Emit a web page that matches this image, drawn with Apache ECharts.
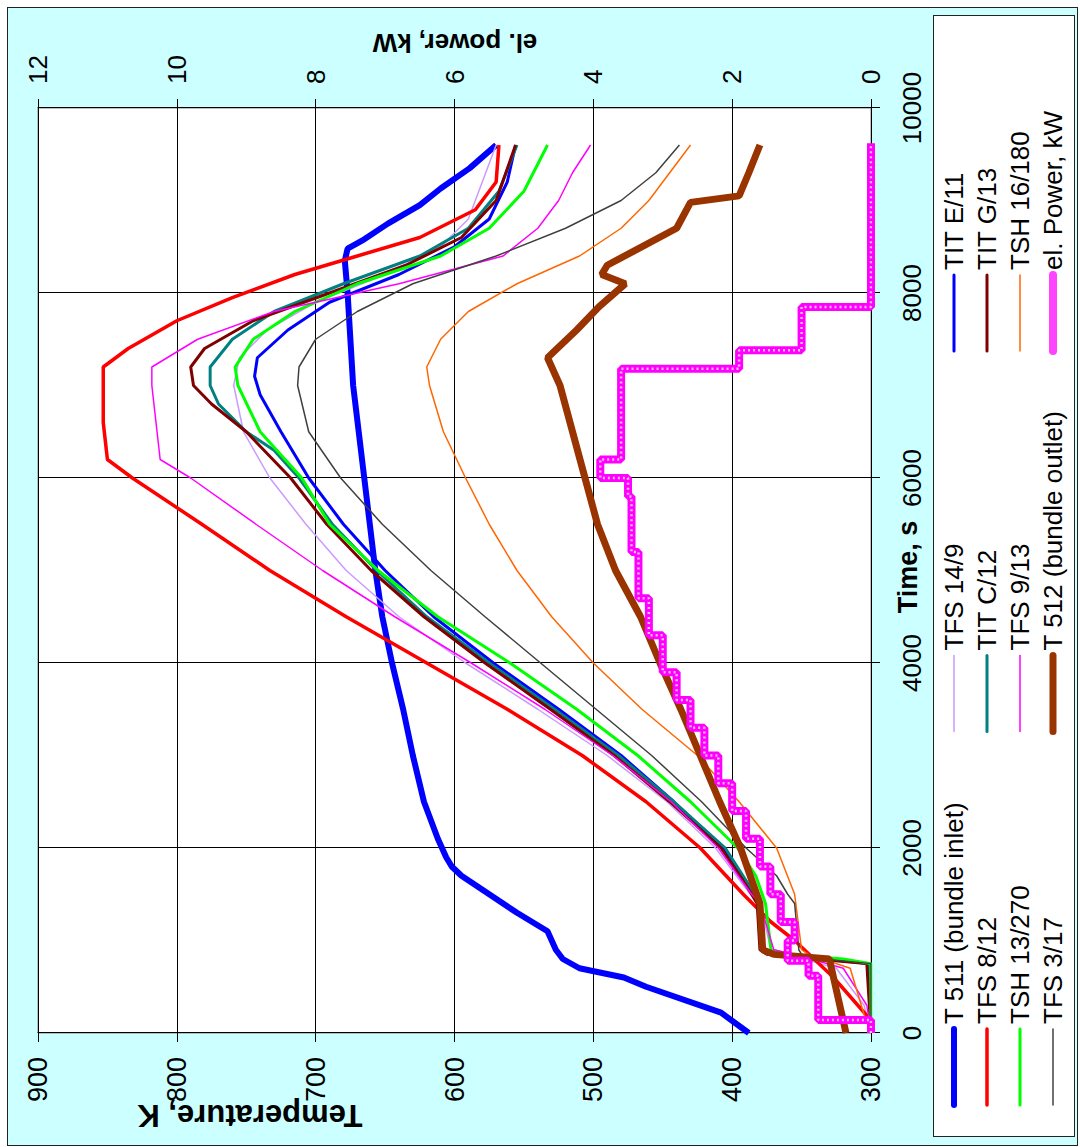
<!DOCTYPE html>
<html><head><meta charset="utf-8">
<script src="https://cdn.jsdelivr.net/npm/echarts@6/dist/echarts.min.js"></script>
<style>
html,body{margin:0;padding:0;background:#fff;overflow:hidden;width:1080px;height:1147px}
#wrap{position:absolute;left:0;top:0;width:1147px;height:1080px;transform-origin:0 0;transform:translate(0px,1147px) rotate(-90deg);}
#bg{position:absolute;left:1px;top:7px;width:1137px;height:1069px;background:#ccffff;border:1.5px solid #222;}
#lg{position:absolute;left:10px;top:933px;width:1120px;height:140px;background:#fff;border:1px solid #222;}
#chart{position:absolute;left:0;top:0;width:1147px;height:1080px;}
</style></head><body>
<div id="wrap"><div id="bg"></div><div id="lg"></div><div id="chart"></div></div>
<script>
// ---- data (time s, temperature K) ----
const t511 = [[0,388],[220,408],[500,462],[600,478],[700,510],[800,522],[900,527],[1000,530],[1100,533],[1300,555],[1500,575],[1700,595],[1800,602],[1900,606],[2100,612],[2500,622],[3000,630],[3500,637],[4000,645],[4500,652],[5000,657],[5500,661],[6000,665],[6500,669],[7000,673],[7500,675],[8000,677],[8350,679],[8480,677],[8580,665],[8750,648],[8950,625],[9130,610],[9350,589],[9600,570]];
const tfs14_9 = [[0,300],[300,305],[700,325],[850,360],[900,372],[1400,380],[1500,387],[2000,412],[2500,447],[3000,490],[3500,540],[4000,592],[4500,640],[5000,678],[5500,707],[6000,733],[6500,752],[7000,759],[7300,755],[7600,735],[7900,700],[8200,650],[8500,610],[8800,590],[9200,580],[9600,570]];
const titE11 = [[0,300],[750,302],[800,330],[850,372],[900,378],[1400,380],[1600,388],[2000,407],[2500,442],[3000,480],[3500,525],[4000,572],[4500,615],[5000,650],[5500,680],[6000,705],[6500,725],[6900,740],[7100,744],[7300,742],[7600,720],[7900,690],[8200,640],[8500,600],[8800,575],[9200,562],[9600,556]];
const tfs8_12 = [[0,300],[170,302],[600,327],[1000,355],[1200,372],[1500,392],[2000,423],[2500,462],[3000,508],[3500,562],[4000,620],[4500,678],[5000,733],[5500,782],[6000,832],[6200,850],[6600,853],[7200,853],[7400,835],[7700,800],[7950,760],[8200,715],[8400,670],[8600,625],[8900,585],[9200,570],[9600,568]];
const titC12 = [[0,300],[750,302],[800,335],[850,372],[900,379],[1400,381],[1600,388],[2000,405],[2500,442],[3000,482],[3500,528],[4000,575],[4500,620],[5000,656],[5500,688],[6000,712],[6300,730],[6500,750],[6800,770],[7000,776],[7200,776],[7500,760],[7800,730],[8100,680],[8400,625],[8700,590],[9100,568],[9600,555]];
const titG13 = [[0,300],[750,303],[800,340],[850,375],[900,380],[1400,382],[1600,390],[2000,408],[2500,445],[3000,485],[3500,531],[4000,578],[4500,622],[5000,660],[5500,692],[6000,718],[6500,750],[6800,775],[7000,788],[7200,790],[7400,780],[7700,745],[8000,690],[8300,635],[8600,595],[9000,570],[9600,556]];
const tsh13_270 = [[0,300],[750,300],[800,320],[850,360],[900,372],[1400,376],[1700,383],[2000,396],[2500,430],[3000,468],[3500,512],[4000,560],[4500,612],[5000,655],[5500,690],[6000,710],[6500,740],[7000,756],[7200,758],[7500,745],[7800,715],[8100,670],[8400,610],[8700,575],[9100,550],[9600,533]];
const tfs9_13 = [[0,300],[300,303],[700,320],[850,355],[900,370],[1400,380],[1500,386],[2000,410],[2500,444],[3000,486],[3500,535],[4000,588],[4500,643],[5000,695],[5500,743],[6000,790],[6200,812],[6600,815],[7000,818],[7200,818],[7500,785],[7800,730],[8100,640],[8400,565],[8700,540],[9000,525],[9300,515],[9600,502]];
const tsh16_180 = [[0,300],[200,305],[700,315],[850,345],[900,350],[1500,355],[2000,368],[2500,395],[3000,425],[3500,465],[4000,500],[4500,530],[5000,555],[5500,575],[6000,592],[6500,608],[7000,618],[7200,620],[7500,610],[7800,590],[8100,555],[8400,510],[8700,480],[9000,460],[9300,445],[9600,430]];
const tfs3_17 = [[0,300],[750,300],[800,335],[850,350],[900,352],[1400,355],[1500,360],[1700,368],[2000,390],[2500,422],[3000,458],[3500,498],[4000,538],[4500,578],[5000,617],[5500,652],[6000,682],[6500,705],[7000,713],[7200,712],[7500,700],[7800,670],[8100,630],[8400,570],[8700,520],[9000,480],[9300,455],[9600,438]];
const t512 = [[0,318],[800,330],[850,370],[900,378],[1400,380],[2000,394],[2500,409],[3000,423],[3500,437],[4000,452],[4500,466],[5000,484],[5500,497],[6000,506],[6500,515],[7000,524],[7300,533],[7600,512],[7850,496],[8100,477],[8200,494],[8300,490],[8700,440],[8980,430],[9050,395],[9300,388],[9600,380]];
// el. power, kW (value holds from the given time)
const power = [[0,0],[140,0.76],[620,0.9],[780,1.2],[1000,1.1],[1200,1.3],[1500,1.45],[1800,1.6],[2100,1.8],[2400,2.0],[2700,2.2],[3000,2.4],[3300,2.6],[3600,2.8],[3900,3.0],[4300,3.2],[4700,3.35],[5200,3.45],[5800,3.5],[6000,3.9],[6200,3.6],[7180,1.9],[7380,1.0],[7850,0],[9620,0]];

const timeRange = [0,10000,2000];
const tempRange = [300,900,100];
const powerRange = [0,12,2];

const FONT = 'Liberation Sans, Arial, sans-serif';
const names = ['T 511 (bundle inlet)','TFS 14/9','TIT E/11','TFS 8/12','TIT C/12','TIT G/13','TSH 13/270','TFS 9/13','TSH 16/180','TFS 3/17','T 512 (bundle outlet)','el. Power, kW'];
const colors = ['#0000ff','#cc99ff','#0000ff','#ff0000','#008080','#800000','#00ff00','#ff00ff','#ff6600','#404040','#993300','#ff33ff'];
const widths = [6,1.5,3,3.5,3,3,3,1.5,1.5,1.5,7,8];
const tempData = [t511,tfs14_9,titE11,tfs8_12,titC12,titG13,tsh13_270,tfs9_13,tsh16_180,tfs3_17,t512];

const series = tempData.map((d,i)=>({
  name:names[i], type:'line', data:d, showSymbol:false, symbol:'none', yAxisIndex:0,
  lineStyle:{color:colors[i], width:widths[i]}, itemStyle:{color:colors[i]}, animation:false
}));
series.push({name:names[11], type:'line', data:power, step:'end', showSymbol:false, symbol:'none', yAxisIndex:1,
  lineStyle:{color:'#ff00ff', width:widths[11]}, itemStyle:{color:'#ff00ff'}, animation:false, z:3});
series.push({name:'power-texture', type:'line', data:power, step:'end', showSymbol:false, symbol:'none', yAxisIndex:1,
  lineStyle:{color:'#ffbbff', width:2.5, type:[2,3]}, itemStyle:{color:'#ffbbff'}, animation:false, z:4, silent:true});

const legItem = i => ({name:names[i], itemStyle:{opacity:0}, lineStyle:{width:widths[i], color:i===11?'#ff44ff':colors[i], cap:'round'}});
const legendBase = {orient:'vertical', itemWidth:76, itemHeight:14, itemGap:7, top:936,
  textStyle:{fontSize:26, fontFamily:FONT, color:'#000', lineHeight:26}, selectedMode:false};
const fmt = v => String(v);
const chart = echarts.init(document.getElementById('chart'), null, {renderer:'svg'});
chart.setOption({
  animation:false,
  grid:{left:114, right:108, top:38, bottom:209, show:true, backgroundColor:'#fff', borderColor:'#808080', borderWidth:1},
  xAxis:{type:'value', min:timeRange[0], max:timeRange[1], interval:timeRange[2],
    axisLine:{show:true, onZero:false, lineStyle:{color:'#000'}}, axisTick:{show:true, length:9, lineStyle:{color:'#000'}},
    axisLabel:{fontSize:26, fontFamily:FONT, color:'#000', margin:28, formatter:fmt},
    splitLine:{show:true, lineStyle:{color:'#000', width:1}}},
  yAxis:[
    {type:'value', min:tempRange[0], max:tempRange[1], interval:tempRange[2], position:'left',
     axisLine:{show:true, lineStyle:{color:'#000'}}, axisTick:{show:true, length:9, lineStyle:{color:'#000'}},
     axisLabel:{fontSize:27, fontFamily:FONT, color:'#000', margin:24, formatter:fmt},
     splitLine:{show:true, lineStyle:{color:'#000', width:1}}},
    {type:'value', min:powerRange[0], max:powerRange[1], interval:powerRange[2], position:'right',
     axisLine:{show:true, lineStyle:{color:'#000'}}, axisTick:{show:true, length:9, lineStyle:{color:'#000'}},
     axisLabel:{fontSize:26, fontFamily:FONT, color:'#000', margin:24, formatter:fmt},
     splitLine:{show:false}}
  ],
  graphic:[
    {type:'text', x:32, y:250, rotation:Math.PI/2,
     style:{text:'Temperature, K', font:'bold 31px '+FONT, fill:'#000', align:'center', verticalAlign:'middle'}},
    {type:'text', x:1104, y:455, rotation:Math.PI/2,
     style:{text:'el. power, kW', font:'bold 26px '+FONT, fill:'#000', align:'center', verticalAlign:'middle'}},
    {type:'text', x:580, y:908, rotation:0,
     style:{text:'Time, s', font:'bold 27px '+FONT, fill:'#000', align:'center', verticalAlign:'middle'}}
  ],
  legend:[
    Object.assign({}, legendBase, {left:34, data:[0,3,6,9].map(legItem)}),
    Object.assign({}, legendBase, {left:407, data:[1,4,7,10].map(legItem)}),
    Object.assign({}, legendBase, {left:787, data:[2,5,8,11].map(legItem)})
  ],
  series:series
});
</script></body></html>
